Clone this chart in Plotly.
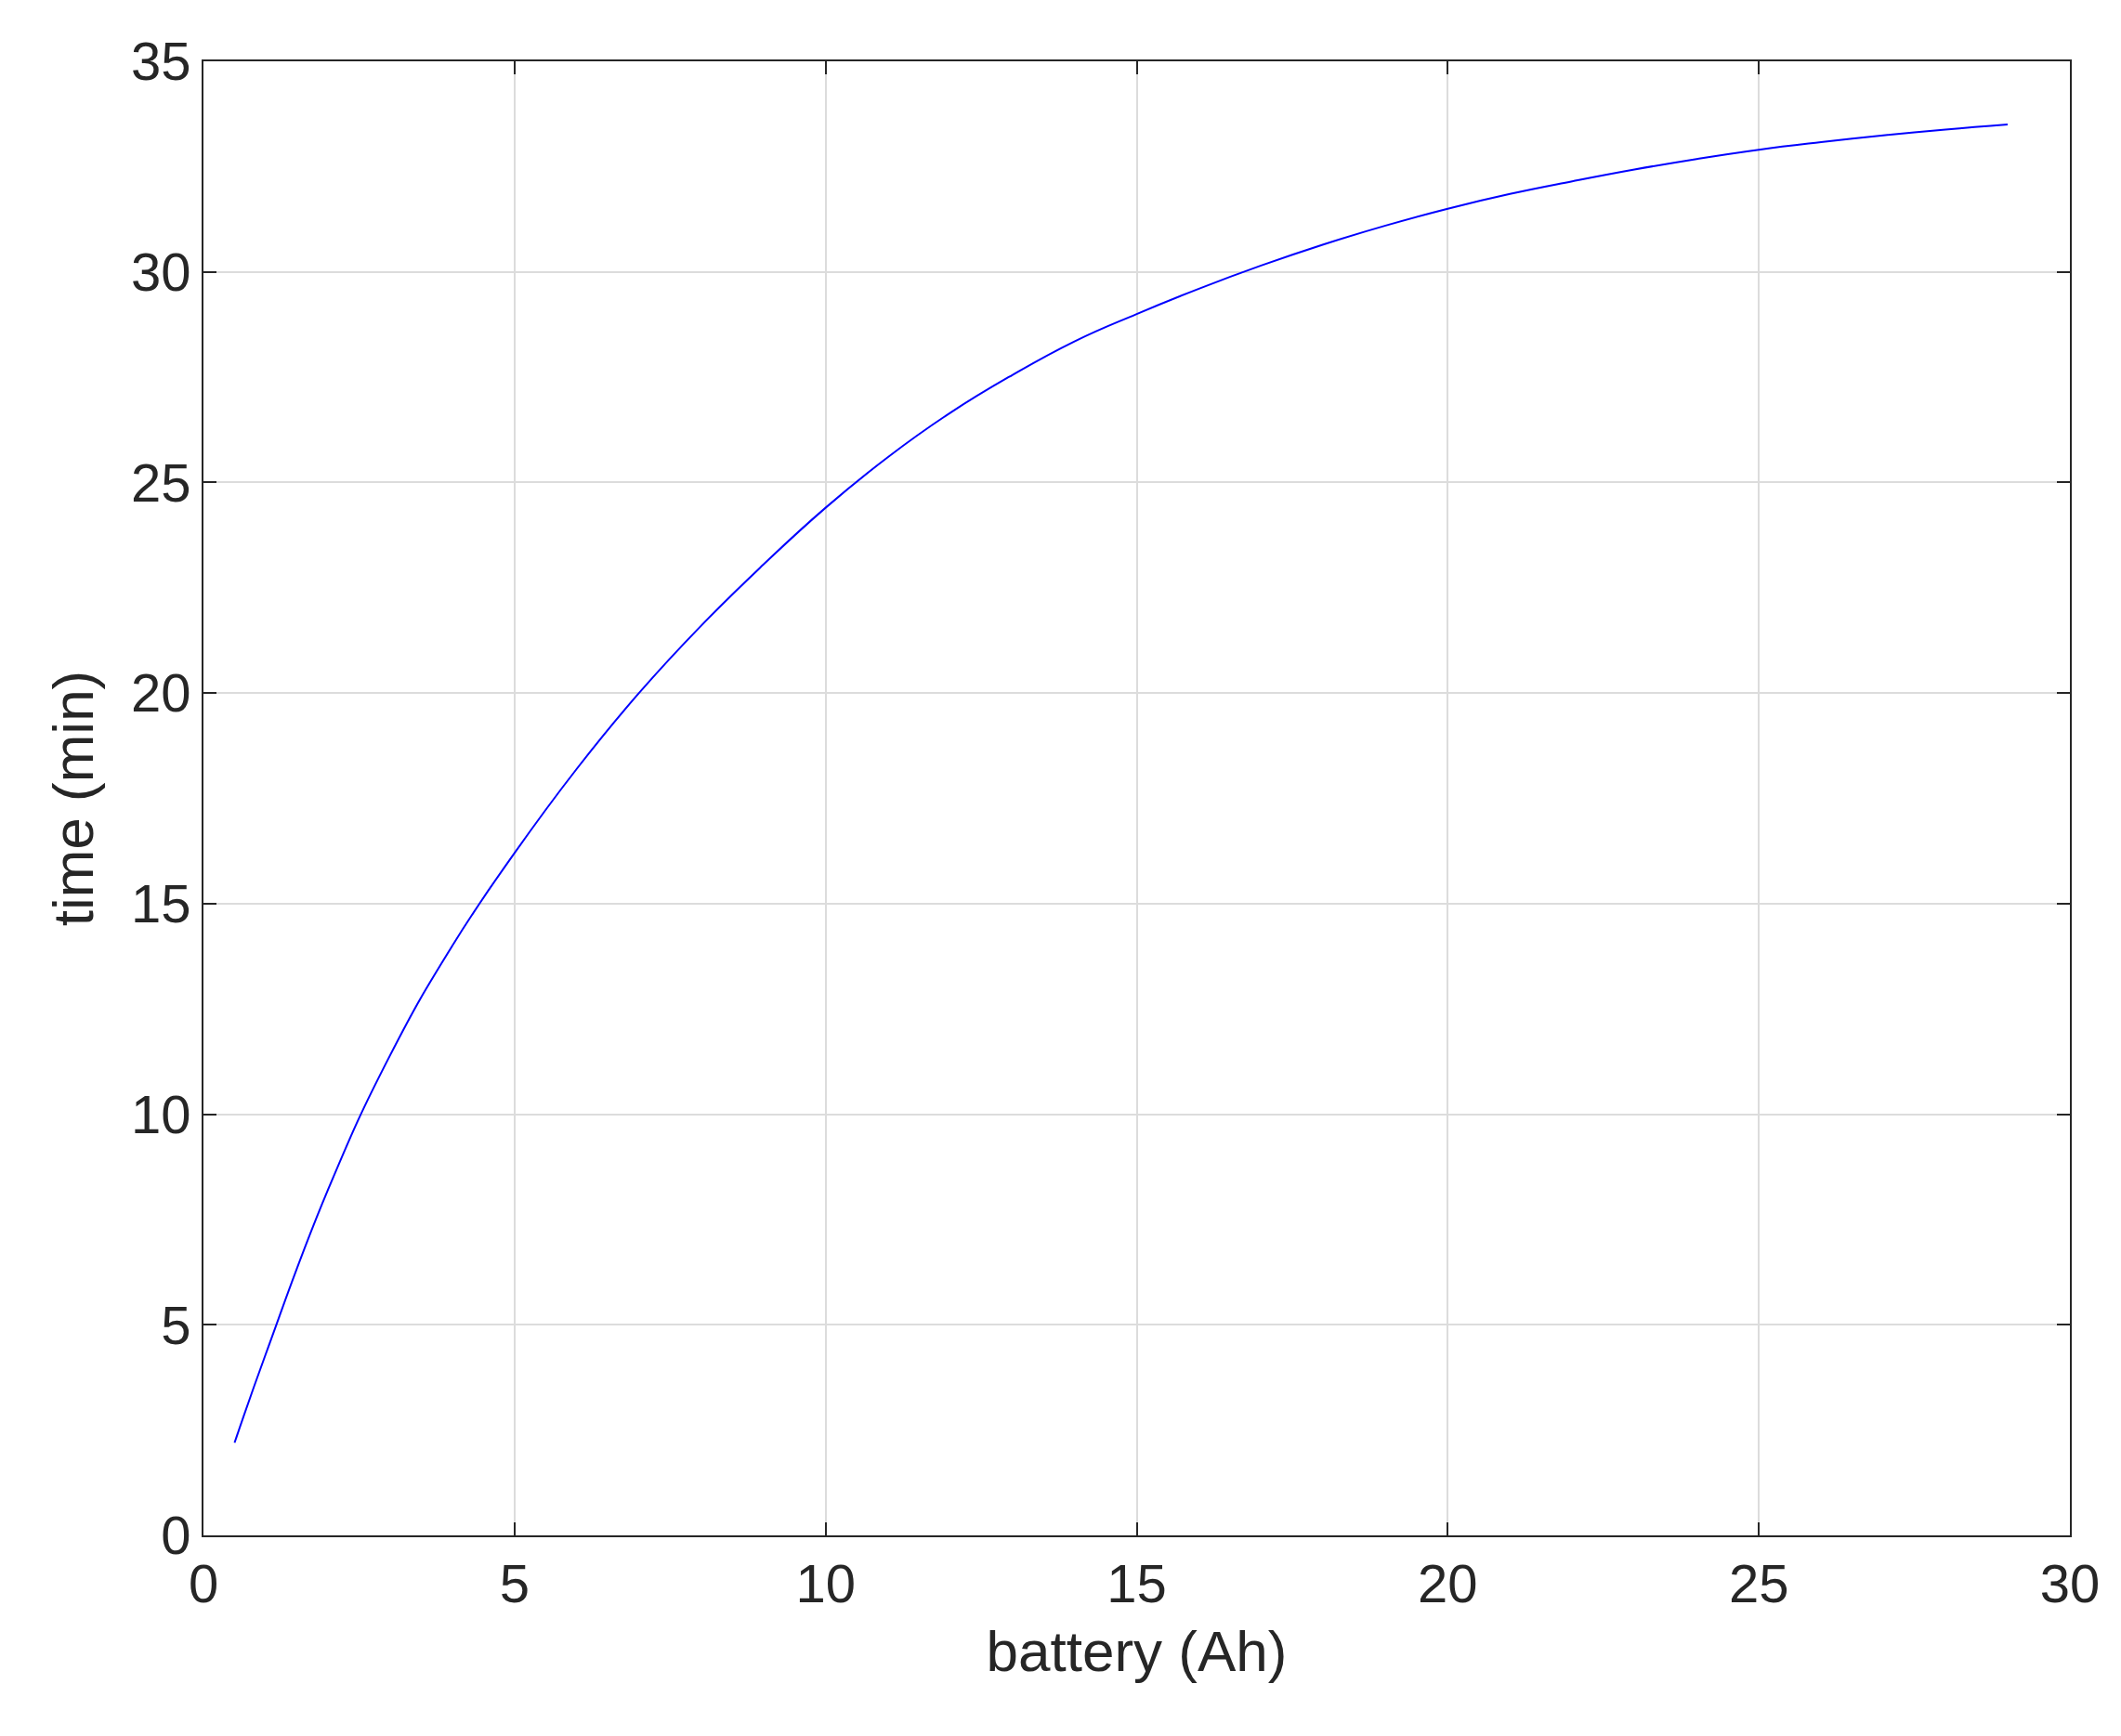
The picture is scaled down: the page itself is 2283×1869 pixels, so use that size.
import plotly.graph_objects as go

battery = [0.5, 1, 2, 3, 4, 5, 6, 7, 8, 9, 10, 11, 12, 13, 14, 15, 16, 17, 18, 19, 20, 21, 22, 23, 24, 25, 26, 27, 28, 29]
time_min = [2.2, 4.3, 8.2, 11.4, 14.0, 16.2, 18.2, 20.0, 21.6, 23.05, 24.4, 25.6, 26.65, 27.55, 28.35, 29.0, 29.6, 30.15, 30.65, 31.1, 31.5, 31.85, 32.15, 32.43, 32.68, 32.9, 33.08, 33.24, 33.38, 33.5]

fig = go.Figure(go.Scatter(x=battery, y=time_min, mode="lines", line=dict(color="#0000ff", width=2, shape="spline", smoothing=1.3)))
ax = dict(showline=True, mirror="ticks", linecolor="#262626", linewidth=2, ticks="inside", ticklen=14,
          tickcolor="#262626", tickwidth=2, showgrid=True, gridcolor="#dcdcdc", gridwidth=1.5, zeroline=False,
          tickfont=dict(size=58, color="#262626"), title_font=dict(size=62, color="#262626"))
fig.update_xaxes(ax, range=[0, 30], dtick=5, title_text="battery (Ah)", title_standoff=20)
fig.update_yaxes(ax, range=[0, 35], dtick=5, title_text="time (min)", title_standoff=20)
fig.update_layout(width=2283, height=1869, paper_bgcolor="white", plot_bgcolor="white",
                  font=dict(family="Liberation Sans, Arial"), showlegend=False,
                  margin=dict(l=211, r=63, t=58, b=224))
fig.write_html("out.html")
